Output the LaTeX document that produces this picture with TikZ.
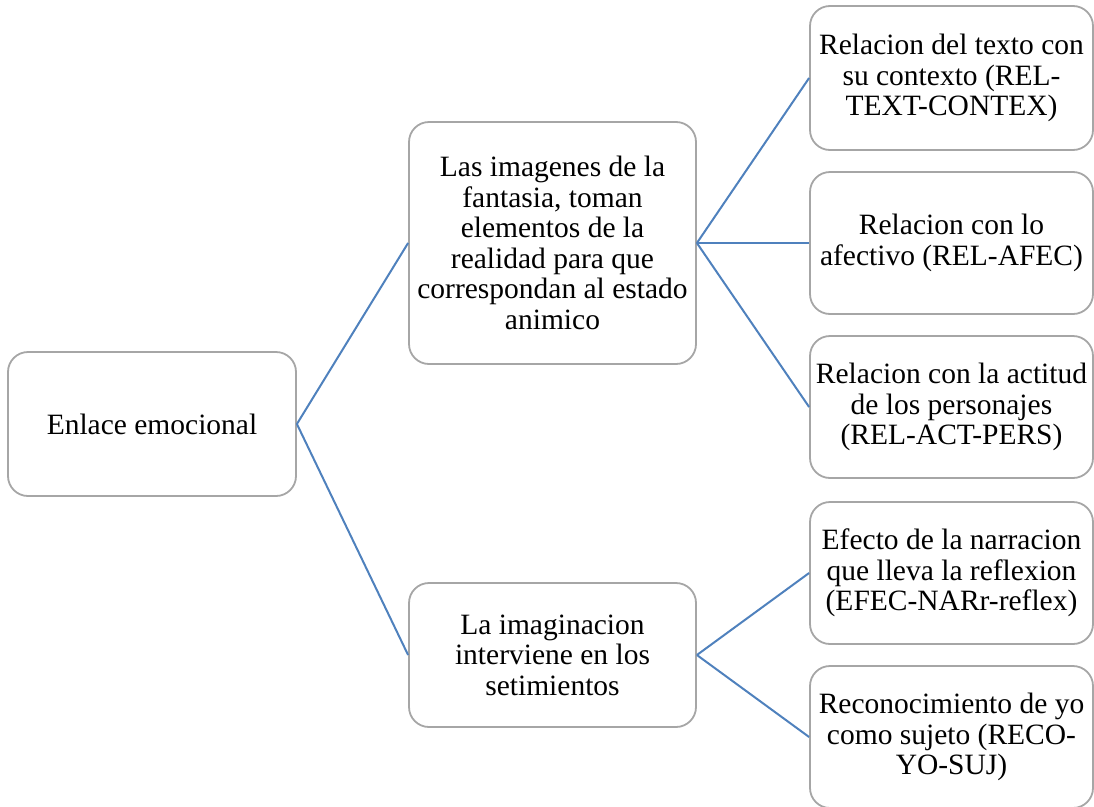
\documentclass[tikz,border=0pt]{standalone}
\usepackage{fontspec}
\setmainfont{Liberation Serif}
\definecolor{boxgray}{HTML}{A6A6A6}
\definecolor{linkblue}{HTML}{4F81BD}
\begin{document}
\begin{tikzpicture}[x=1pt,y=-1pt,
  box/.style={draw=boxgray, line width=1.8pt, rounded corners=20pt, fill=white,
    align=center, inner sep=0pt, font=\fontsize{29.5}{30.5}\selectfont},
  link/.style={draw=linkblue, line width=2pt}]
\useasboundingbox (0,0) rectangle (1094,806);
\begin{scope}
\clip (0,0) rectangle (1094,806);
\node[box, minimum width=288pt, minimum height=144pt] (root) at (152,424) {Enlace emocional};
\node[box, minimum width=287pt, minimum height=242pt] (m1) at (552.5,243) {Las imagenes de la\\fantasia, toman\\elementos de la\\realidad para que\\correspondan al estado\\animico};
\node[box, minimum width=287pt, minimum height=144pt] (m2) at (552.5,655) {La imaginacion\\interviene en los\\setimientos};
\node[box, minimum width=283pt, minimum height=144pt] (l1) at (951.5,78) {Relacion del texto con\\su contexto (REL-\\TEXT-CONTEX)};
\node[box, minimum width=283pt, minimum height=142pt] (l2) at (951.5,243) {Relacion con lo\\afectivo (REL-AFEC)};
\node[box, minimum width=283pt, minimum height=142pt] (l3) at (951.5,407) {Relacion con la actitud\\de los personajes\\(REL-ACT-PERS)};
\node[box, minimum width=283pt, minimum height=142pt] (l4) at (951.5,573) {Efecto de la narracion\\que lleva la reflexion\\(EFEC-NARr-reflex)};
\node[box, minimum width=283pt, minimum height=142pt] (l5) at (951.5,737) {Reconocimiento de yo\\como sujeto (RECO-\\YO-SUJ)};
\draw[link] (root.east) -- (m1.west);
\draw[link] (root.east) -- (m2.west);
\draw[link] (m1.east) -- (l1.west);
\draw[link] (m1.east) -- (l2.west);
\draw[link] (m1.east) -- (l3.west);
\draw[link] (m2.east) -- (l4.west);
\draw[link] (m2.east) -- (l5.west);
\end{scope}
\end{tikzpicture}
\end{document}
